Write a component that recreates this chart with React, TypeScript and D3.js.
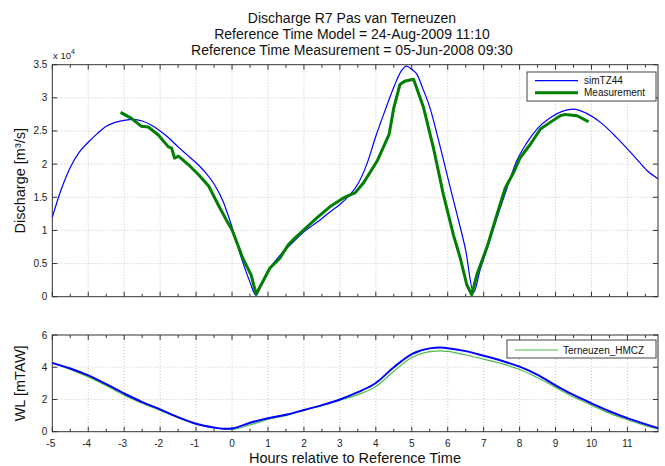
import { useEffect, useRef } from 'react';
import * as d3 from 'd3';

// Discharge (x 10^4 m3/s), model simTZ44
const simHours = [-5, -4.75, -4.5, -4.25, -4, -3.75, -3.5, -3.25, -3, -2.75, -2.5, -2.25, -2, -1.75, -1.5, -1.25, -1, -0.75, -0.5, -0.25, 0, 0.25, 0.5, 0.67, 0.8, 1, 1.25, 1.5, 1.75, 2, 2.25, 2.5, 2.75, 3, 3.25, 3.5, 3.75, 4, 4.25, 4.5, 4.7, 4.85, 5, 5.15, 5.3, 5.5, 5.75, 6, 6.25, 6.5, 6.72, 6.9, 7.1, 7.37, 7.65, 7.92, 8.2, 8.5, 8.85, 9.2, 9.5, 9.85, 10.25, 10.7, 11.2, 11.55, 11.85];
const simDischarge = [1.2, 1.62, 1.95, 2.18, 2.33, 2.46, 2.57, 2.63, 2.66, 2.675, 2.65, 2.59, 2.5, 2.39, 2.26, 2.14, 2.02, 1.88, 1.7, 1.44, 1.05, 0.6, 0.22, 0.02, 0.17, 0.39, 0.57, 0.72, 0.85, 0.98, 1.08, 1.18, 1.29, 1.39, 1.52, 1.7, 2.0, 2.42, 2.8, 3.16, 3.4, 3.48, 3.43, 3.35, 3.15, 2.86, 2.35, 1.8, 1.26, 0.7, 0.06, 0.4, 0.73, 1.19, 1.64, 2.05, 2.32, 2.54, 2.7, 2.8, 2.83, 2.77, 2.63, 2.4, 2.11, 1.9, 1.78];

// Discharge measurement
const measHours = [-3.1, -2.8, -2.52, -2.33, -2.05, -1.77, -1.68, -1.6, -1.49, -1.21, -0.93, -0.65, -0.36, -0.15, 0, 0.3, 0.53, 0.67, 0.81, 1.05, 1.33, 1.56, 1.7, 2, 2.36, 2.73, 3.1, 3.43, 3.66, 4.04, 4.37, 4.5, 4.67, 4.8, 5.05, 5.33, 5.6, 5.88, 6.16, 6.35, 6.53, 6.67, 6.81, 7.1, 7.37, 7.6, 7.83, 8.02, 8.3, 8.58, 8.85, 9.13, 9.27, 9.6, 9.78, 9.92];
const measDischarge = [2.78, 2.69, 2.57, 2.56, 2.44, 2.26, 2.24, 2.09, 2.12, 1.99, 1.84, 1.67, 1.36, 1.15, 1.01, 0.58, 0.33, 0.04, 0.18, 0.43, 0.58, 0.78, 0.86, 1.01, 1.19, 1.36, 1.49, 1.57, 1.72, 2.05, 2.45, 2.85, 3.2, 3.25, 3.28, 2.85, 2.25, 1.54, 0.93, 0.58, 0.18, 0.03, 0.33, 0.76, 1.24, 1.64, 1.87, 2.1, 2.3, 2.53, 2.63, 2.73, 2.75, 2.73, 2.68, 2.64];

// Water level (mTAW)
const wlHours = [-5, -4.5, -4, -3.5, -3, -2.5, -2, -1.5, -1, -0.5, -0.2, 0, 0.5, 1, 1.5, 2, 2.5, 3, 3.5, 4, 4.5, 5, 5.5, 5.8, 6, 6.5, 7, 7.5, 8, 8.5, 9, 9.5, 10, 10.5, 11, 11.5, 11.85];
const wlModel = [4.27, 3.92, 3.49, 2.95, 2.37, 1.84, 1.39, 0.9, 0.49, 0.26, 0.18, 0.2, 0.55, 0.84, 1.05, 1.35, 1.65, 2.0, 2.45, 3.02, 4.0, 4.82, 5.17, 5.22, 5.18, 5.0, 4.71, 4.4, 4.04, 3.53, 2.88, 2.28, 1.76, 1.27, 0.84, 0.47, 0.22];
const wlStation = [4.27, 3.87, 3.4, 2.86, 2.27, 1.77, 1.32, 0.86, 0.46, 0.24, 0.16, 0.15, 0.42, 0.76, 1.0, 1.33, 1.62, 1.96, 2.3, 2.8, 3.75, 4.6, 4.97, 5.02, 4.98, 4.76, 4.5, 4.22, 3.86, 3.35, 2.75, 2.15, 1.65, 1.15, 0.74, 0.38, 0.17];

const hourTicks = d3.range(-5, 12, 1);
const hourMinorTicks = d3.range(-4.5, 12, 1);
const dischargeTicks = [0, 0.5, 1, 1.5, 2, 2.5, 3, 3.5];
const wlTicks = [0, 2, 4, 6];

const titleLines = [
  'Discharge R7 Pas van Terneuzen',
  'Reference Time Model = 24-Aug-2009 11:10',
  'Reference Time Measurement = 05-Jun-2008 09:30',
];

const FONT = 'Liberation Sans, Arial, sans-serif';

export default function App() {
  const svgRef = useRef<SVGSVGElement>(null);

  useEffect(() => {
    if (!svgRef.current) return;
    const svg = d3.select(svgRef.current);
    svg.selectAll('*').remove();

    const x = d3.scaleLinear().domain([-5, 11.85]).range([52.3, 658]);
    const yQ = d3.scaleLinear().domain([0, 3.5]).range([296.7, 64.7]);
    const yWL = d3.scaleLinear().domain([0, 6]).range([431.7, 335]);

    svg.append('rect').attr('width', 665).attr('height', 466).attr('fill', '#fff');

    // draws grid, box and ticks of one axes
    const drawFrame = (y: d3.ScaleLinear<number, number>, yTicks: number[], xLabels: boolean) => {
      const [x0, x1] = x.range();
      const [yb, yt] = y.range();
      const g = svg.append('g');

      g.selectAll('.vgrid').data(hourTicks.slice(1)).join('line')
        .attr('x1', d => x(d)).attr('x2', d => x(d))
        .attr('y1', yt).attr('y2', yb)
        .attr('stroke', '#c8c8c8').attr('stroke-width', 1).attr('stroke-dasharray', '1,2');
      g.selectAll('.hgrid').data(yTicks.slice(1, -1)).join('line')
        .attr('x1', x0).attr('x2', x1)
        .attr('y1', d => y(d)).attr('y2', d => y(d))
        .attr('stroke', '#c8c8c8').attr('stroke-width', 1).attr('stroke-dasharray', '1,2');

      const ticks = [
        ...hourTicks.map(d => ({ v: d, len: 5 })),
        ...hourMinorTicks.map(d => ({ v: d, len: 3 })),
      ];
      g.selectAll('.tb').data(ticks).join('line')
        .attr('x1', d => x(d.v)).attr('x2', d => x(d.v))
        .attr('y1', yb).attr('y2', d => yb - d.len)
        .attr('stroke', '#333');
      g.selectAll('.tt').data(ticks).join('line')
        .attr('x1', d => x(d.v)).attr('x2', d => x(d.v))
        .attr('y1', yt).attr('y2', d => yt + d.len)
        .attr('stroke', '#333');
      g.selectAll('.tl').data(yTicks).join('line')
        .attr('x1', x0).attr('x2', x0 + 5)
        .attr('y1', d => y(d)).attr('y2', d => y(d))
        .attr('stroke', '#333');
      g.selectAll('.tr').data(yTicks).join('line')
        .attr('x1', x1).attr('x2', x1 - 5)
        .attr('y1', d => y(d)).attr('y2', d => y(d))
        .attr('stroke', '#333');

      g.append('rect')
        .attr('x', x0).attr('y', yt)
        .attr('width', x1 - x0).attr('height', yb - yt)
        .attr('fill', 'none').attr('stroke', '#333').attr('stroke-width', 1);

      g.selectAll('.yl').data(yTicks).join('text')
        .attr('x', x0 - 5).attr('y', d => y(d) + 3.5)
        .attr('text-anchor', 'end')
        .attr('font-family', FONT).attr('font-size', 10).attr('fill', '#222')
        .text(d => String(d));

      if (xLabels) {
        g.selectAll('.xl').data(hourTicks).join('text')
          .attr('x', d => x(d) - (d < 0 ? 1.5 : 0)).attr('y', yb + 15)
          .attr('text-anchor', 'middle')
          .attr('font-family', FONT).attr('font-size', 10).attr('fill', '#222')
          .text(d => String(d));
      }
    };

    // top axes: discharge
    drawFrame(yQ, dischargeTicks, false);

    const topLine = d3.line<[number, number]>().x(d => x(d[0])).y(d => yQ(d[1]));
    svg.append('path')
      .datum(simHours.map((h, i) => [h, simDischarge[i]] as [number, number]))
      .attr('d', topLine.curve(d3.curveMonotoneX))
      .attr('fill', 'none').attr('stroke', '#0000ff').attr('stroke-width', 1.2);
    svg.append('path')
      .datum(measHours.map((h, i) => [h, measDischarge[i]] as [number, number]))
      .attr('d', d3.line<[number, number]>().x(d => x(d[0])).y(d => yQ(d[1])))
      .attr('fill', 'none').attr('stroke', '#007f00').attr('stroke-width', 3)
      .attr('stroke-linejoin', 'round');

    // bottom axes: water level
    drawFrame(yWL, wlTicks, true);

    const wlLine = d3.line<[number, number]>().x(d => x(d[0])).y(d => yWL(d[1])).curve(d3.curveMonotoneX);
    svg.append('path')
      .datum(wlHours.map((h, i) => [h, wlStation[i]] as [number, number]))
      .attr('d', wlLine)
      .attr('fill', 'none').attr('stroke', '#4cbb4c').attr('stroke-width', 1.2);
    svg.append('path')
      .datum(wlHours.map((h, i) => [h, wlModel[i]] as [number, number]))
      .attr('d', wlLine)
      .attr('fill', 'none').attr('stroke', '#0000ff').attr('stroke-width', 2);

    // legends
    const topLeg = svg.append('g');
    topLeg.append('rect').attr('x', 527).attr('y', 72).attr('width', 129).attr('height', 29)
      .attr('fill', '#fff').attr('stroke', '#444');
    topLeg.append('line').attr('x1', 535).attr('x2', 578).attr('y1', 80.7).attr('y2', 80.7)
      .attr('stroke', '#0000ff').attr('stroke-width', 1.2);
    topLeg.append('line').attr('x1', 535).attr('x2', 578).attr('y1', 92.7).attr('y2', 92.7)
      .attr('stroke', '#007f00').attr('stroke-width', 3);
    topLeg.append('text').attr('x', 584).attr('y', 84.2)
      .attr('font-family', FONT).attr('font-size', 10).attr('fill', '#111').text('simTZ44');
    topLeg.append('text').attr('x', 584).attr('y', 96.2)
      .attr('font-family', FONT).attr('font-size', 10).attr('fill', '#111').text('Measurement');

    const botLeg = svg.append('g');
    botLeg.append('rect').attr('x', 507).attr('y', 340).attr('width', 149).attr('height', 18)
      .attr('fill', '#fff').attr('stroke', '#444');
    botLeg.append('line').attr('x1', 515).attr('x2', 558).attr('y1', 350).attr('y2', 350)
      .attr('stroke', '#4cbb4c').attr('stroke-width', 1.2);
    botLeg.append('text').attr('x', 563).attr('y', 353.5)
      .attr('font-family', FONT).attr('font-size', 10).attr('fill', '#111').text('Terneuzen_HMCZ');

    // titles and labels
    svg.selectAll('.title').data(titleLines).join('text')
      .attr('x', 352).attr('y', (d, i) => 23 + i * 16)
      .attr('text-anchor', 'middle')
      .attr('font-family', FONT).attr('font-size', 14).attr('fill', '#111')
      .text(d => d);

    const exp = svg.append('text').attr('x', 53).attr('y', 59)
      .attr('font-family', FONT).attr('font-size', 9.5).attr('fill', '#222');
    exp.append('tspan').text('x 10');
    exp.append('tspan').attr('dy', -5).attr('font-size', 7).text('4');

    svg.append('text')
      .attr('transform', `translate(25,${(yQ(0) + yQ(3.5)) / 2}) rotate(-90)`)
      .attr('text-anchor', 'middle')
      .attr('font-family', FONT).attr('font-size', 14.5).attr('fill', '#111')
      .text('Discharge [m³/s]');
    svg.append('text')
      .attr('transform', `translate(25,${(yWL(0) + yWL(6)) / 2}) rotate(-90)`)
      .attr('text-anchor', 'middle')
      .attr('font-family', FONT).attr('font-size', 14.5).attr('fill', '#111')
      .text('WL [mTAW]');
    svg.append('text')
      .attr('x', 355).attr('y', 463)
      .attr('text-anchor', 'middle')
      .attr('font-family', FONT).attr('font-size', 14.5).attr('fill', '#111')
      .text('Hours relative to Reference Time');
  }, []);

  return (
    <div style={{ position: 'absolute', left: 0, top: 0, width: 665, height: 466 }}>
      <svg ref={svgRef} width={665} height={466} style={{ display: 'block' }} />
    </div>
  );
}
